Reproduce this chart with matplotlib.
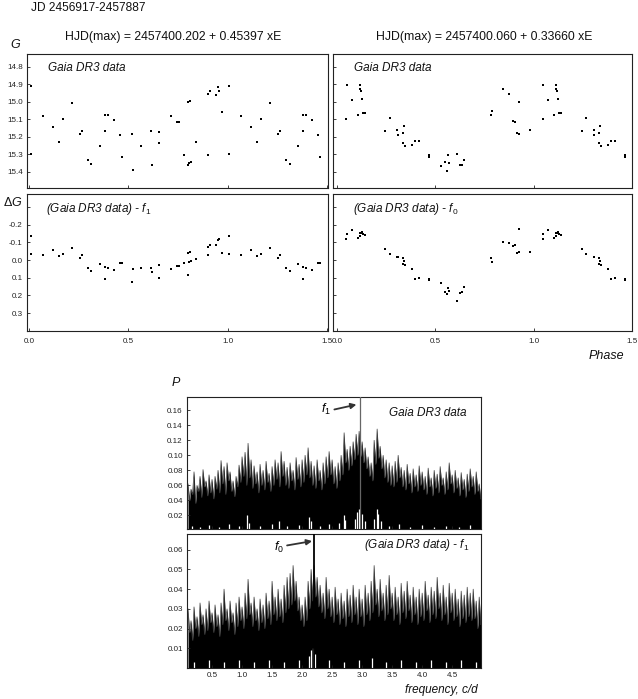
import numpy as np
import matplotlib
matplotlib.use("Agg")
import matplotlib.pyplot as plt
from matplotlib.ticker import FormatStrFormatter

plt.rcParams['font.family'] = ['Liberation Sans', 'DejaVu Sans']
plt.rcParams['mathtext.fontset'] = 'custom'
plt.rcParams['mathtext.rm'] = 'Liberation Sans'
plt.rcParams['mathtext.it'] = 'Liberation Sans:italic'
plt.rcParams['mathtext.bf'] = 'Liberation Sans:bold'
plt.rcParams['axes.unicode_minus'] = False

# ---------------- data: light curves ----------------
# left column (P = 0.45397 d)
phase_left = [0.008, 0.008, 0.070, 0.119, 0.151, 0.171, 0.214, 0.254, 0.264, 0.294,
              0.313, 0.355, 0.380, 0.381, 0.398, 0.425, 0.455, 0.468, 0.518, 0.523,
              0.562, 0.615, 0.620, 0.652, 0.654, 0.716, 0.744, 0.753, 0.778, 0.798,
              0.801, 0.811, 0.808, 0.814, 0.841, 0.900, 0.901, 0.910, 0.941, 0.951,
              0.955, 0.970]
g_left = [14.910, 15.297, 15.082, 15.147, 15.229, 15.097, 15.010, 15.185, 15.168, 15.333,
          15.358, 15.251, 15.168, 15.074, 15.074, 15.105, 15.192, 15.316, 15.187, 15.392,
          15.253, 15.170, 15.362, 15.175, 15.238, 15.082, 15.118, 15.116, 15.305, 15.360,
          15.004, 14.996, 15.349, 15.343, 15.229, 15.305, 14.954, 14.939, 14.964, 14.918,
          14.941, 15.061]
dg_left = [-0.136, -0.034, -0.030, -0.058, -0.025, -0.034, -0.068, -0.011, -0.028, 0.047,
           0.060, 0.023, 0.108, 0.040, 0.047, 0.055, 0.019, 0.019, 0.126, 0.051,
           0.043, 0.043, 0.068, 0.030, 0.102, 0.051, 0.036, 0.036, 0.019, 0.083,
           -0.042, -0.043, 0.009, 0.008, -0.008, -0.026, -0.075, -0.087, -0.087, -0.113,
           -0.117, -0.042]

# right column (P = 0.33660 d)
phase_right = [0.046, 0.049, 0.076, 0.105, 0.115, 0.115, 0.120, 0.125, 0.130, 0.140,
               0.245, 0.269, 0.306, 0.308, 0.335, 0.338, 0.333, 0.345,
               0.381, 0.394, 0.415, 0.465, 0.465,
               0.528, 0.548, 0.562, 0.560, 0.570,
               0.611, 0.626, 0.635, 0.646,
               0.783, 0.790,
               0.846, 0.876, 0.895, 0.904, 0.914, 0.924, 0.926, 0.981]
g_right = [15.098, 14.902, 14.992, 15.075, 14.906, 14.927, 14.941, 14.984, 15.067, 15.067,
           15.165, 15.092, 15.163, 15.188, 15.180, 15.141, 15.235, 15.253,
           15.249, 15.227, 15.227, 15.306, 15.318,
           15.365, 15.347, 15.302, 15.394, 15.349,
           15.296, 15.361, 15.359, 15.331,
           15.075, 15.051,
           14.927, 14.955, 15.110, 15.114, 15.176, 15.184, 15.000, 15.161]
dg_right = [-0.118, -0.146, -0.171, -0.125, -0.135, -0.152, -0.154, -0.160, -0.146, -0.139,
            -0.061, -0.034, -0.019, -0.015, -0.011, 0.004, 0.023, 0.029,
            0.051, 0.105, 0.103, 0.108, 0.114,
            0.129, 0.181, 0.158, 0.194, 0.175,
            0.230, 0.184, 0.181, 0.152,
            -0.010, 0.013,
            -0.103, -0.095, -0.082, -0.084, -0.038, -0.044, -0.177, -0.048]

# ---------------- data: periodograms ----------------
freq_start, freq_end, n_freq = 0.10, 4.95, 98
# spike tops, one per 0.05 c/d
p1_peak = [0.062, 0.055, 0.078, 0.060, 0.072, 0.081, 0.066, 0.074, 0.068, 0.072,
           0.080, 0.093, 0.085, 0.090, 0.078, 0.066, 0.072, 0.087, 0.098, 0.104,
           0.116, 0.094, 0.086, 0.078, 0.088, 0.080, 0.092, 0.076, 0.085, 0.094,
           0.090, 0.105, 0.092, 0.084, 0.090, 0.080, 0.097, 0.088, 0.094, 0.100,
           0.110, 0.092, 0.086, 0.094, 0.080, 0.090, 0.098, 0.105, 0.094, 0.085,
           0.090, 0.100, 0.130, 0.108, 0.112, 0.118, 0.128, 0.132, 0.118, 0.110,
           0.098, 0.090, 0.120, 0.135, 0.112, 0.100, 0.094, 0.090, 0.086, 0.092,
           0.100, 0.084, 0.080, 0.088, 0.076, 0.082, 0.074, 0.086, 0.078, 0.072,
           0.083, 0.070, 0.080, 0.075, 0.085, 0.070, 0.078, 0.090, 0.074, 0.080,
           0.070, 0.077, 0.068, 0.075, 0.082, 0.072, 0.078, 0.062]
# valleys between spikes, one per 0.05 c/d
p1_valley = [0.040, 0.048, 0.036, 0.052, 0.044, 0.058, 0.046, 0.050, 0.042, 0.055,
             0.050, 0.062, 0.048, 0.066, 0.052, 0.045, 0.058, 0.064, 0.072, 0.060,
             0.070, 0.056, 0.062, 0.050, 0.060, 0.054, 0.064, 0.052, 0.060, 0.068,
             0.058, 0.072, 0.060, 0.056, 0.066, 0.054, 0.068, 0.058, 0.064, 0.074,
             0.070, 0.060, 0.056, 0.066, 0.054, 0.062, 0.070, 0.074, 0.062, 0.056,
             0.066, 0.074, 0.090, 0.080, 0.086, 0.094, 0.100, 0.098, 0.090, 0.082,
             0.072, 0.066, 0.088, 0.096, 0.082, 0.070, 0.064, 0.060, 0.058, 0.064,
             0.070, 0.058, 0.054, 0.062, 0.050, 0.058, 0.052, 0.060, 0.054, 0.048,
             0.058, 0.046, 0.056, 0.050, 0.060, 0.048, 0.054, 0.062, 0.050, 0.056,
             0.046, 0.054, 0.044, 0.052, 0.058, 0.048, 0.052, 0.042]
p1_gap_freq = [0.16, 0.30, 0.45, 0.62, 0.78, 0.95, 1.09, 1.12, 1.30, 1.50, 1.62, 1.75,
               1.95, 2.12, 2.15, 2.30, 2.45, 2.62, 2.69, 2.72, 2.88, 2.92, 2.95, 3.00,
               3.04, 3.20, 3.24, 3.27, 3.31, 3.45, 3.62, 3.80, 4.00, 4.20, 4.40, 4.62, 4.80]
p1_gap_height = [0.006, 0.005, 0.007, 0.005, 0.008, 0.006, 0.020, 0.010, 0.006, 0.008,
                 0.012, 0.006, 0.007, 0.018, 0.012, 0.006, 0.008, 0.010, 0.020, 0.014,
                 0.015, 0.025, 0.028, 0.022, 0.012, 0.015, 0.028, 0.022, 0.012, 0.006,
                 0.008, 0.005, 0.007, 0.005, 0.006, 0.005, 0.007]

p2_peak = [0.030, 0.024, 0.031, 0.026, 0.033, 0.027, 0.030, 0.034, 0.028, 0.032,
           0.027, 0.033, 0.040, 0.030, 0.034, 0.028, 0.033, 0.036, 0.031, 0.038,
           0.045, 0.033, 0.036, 0.030, 0.035, 0.032, 0.038, 0.034, 0.044, 0.036,
           0.040, 0.035, 0.042, 0.046, 0.048, 0.052, 0.044, 0.036, 0.032, 0.036,
           0.044, 0.050, 0.052, 0.046, 0.042, 0.038, 0.046, 0.040, 0.036, 0.041,
           0.035, 0.038, 0.034, 0.040, 0.037, 0.042, 0.036, 0.040, 0.035, 0.042,
           0.038, 0.044, 0.052, 0.040, 0.045, 0.038, 0.042, 0.047, 0.038, 0.041,
           0.036, 0.043, 0.039, 0.044, 0.037, 0.041, 0.036, 0.040, 0.038, 0.044,
           0.037, 0.041, 0.039, 0.046, 0.038, 0.042, 0.036, 0.043, 0.038, 0.040,
           0.035, 0.039, 0.037, 0.041, 0.038, 0.040, 0.034, 0.036]
p2_valley = [0.018, 0.014, 0.020, 0.016, 0.022, 0.017, 0.019, 0.023, 0.018, 0.021,
             0.016, 0.022, 0.024, 0.019, 0.023, 0.017, 0.021, 0.024, 0.020, 0.025,
             0.027, 0.021, 0.024, 0.019, 0.023, 0.020, 0.025, 0.022, 0.027, 0.024,
             0.026, 0.023, 0.028, 0.030, 0.032, 0.034, 0.029, 0.024, 0.021, 0.024,
             0.030, 0.034, 0.036, 0.031, 0.028, 0.025, 0.030, 0.026, 0.023, 0.027,
             0.022, 0.025, 0.021, 0.026, 0.023, 0.027, 0.022, 0.026, 0.021, 0.027,
             0.024, 0.028, 0.032, 0.026, 0.029, 0.024, 0.027, 0.030, 0.024, 0.027,
             0.022, 0.028, 0.025, 0.029, 0.023, 0.027, 0.022, 0.026, 0.024, 0.029,
             0.023, 0.027, 0.025, 0.030, 0.024, 0.027, 0.022, 0.028, 0.024, 0.026,
             0.021, 0.025, 0.023, 0.026, 0.024, 0.025, 0.020, 0.022]
p2_gap_freq = [0.20, 0.45, 0.70, 0.95, 1.20, 1.45, 1.70, 1.95, 2.12, 2.15, 2.18, 2.21,
               2.45, 2.70, 2.95, 3.16, 3.40, 3.65, 3.90, 4.15, 4.40, 4.65, 4.90]
p2_gap_height = [0.003, 0.004, 0.003, 0.004, 0.003, 0.004, 0.003, 0.004, 0.006, 0.009,
                 0.010, 0.007, 0.004, 0.003, 0.004, 0.005, 0.003, 0.004, 0.003, 0.004,
                 0.003, 0.004, 0.003]

f1 = 1 / 0.33660
f0 = 1 / 0.45397

# ---------------- figure ----------------
W, H = 638, 699
fig = plt.figure(figsize=(W / 100, H / 100), dpi=100)


def rect(l, t, r, b):
    return [l / W, 1 - b / H, (r - l) / W, (b - t) / H]


def style(ax):
    for s in ax.spines.values():
        s.set_linewidth(0.8)
        s.set_color('#222222')
    ax.tick_params(direction='in', length=2.5, width=0.6, labelsize=5.8,
                   colors='#222222', pad=3, top=False, right=False)


def fold(ph, val):
    ph = np.asarray(ph)
    val = np.asarray(val)
    m = ph + 1 <= 1.5
    return np.concatenate([ph, ph[m] + 1]), np.concatenate([val, val[m]])


ax_tl = fig.add_axes(rect(27, 54, 328, 188.3))
ax_bl = fig.add_axes(rect(27, 194.3, 328, 330.7))
ax_tr = fig.add_axes(rect(333, 54, 632, 188.3))
ax_br = fig.add_axes(rect(333, 194.3, 632, 330.7))

mk = dict(marker='s', ms=2.15, mew=0, color='black', ls='none')
g_ticks = [14.8, 14.9, 15.0, 15.1, 15.2, 15.3, 15.4]
dg_ticks = [-0.3, -0.2, -0.1, 0.0, 0.1, 0.2, 0.3]
dg_labels = ['', '-0.2', '-0.1', '0.0', '0.1', '0.2', '0.3']
ph_ticks = [0.0, 0.5, 1.0, 1.5]

for ax, ph, val, xl in [(ax_tl, phase_left, g_left, (-0.012, 1.507)),
                        (ax_tr, phase_right, g_right, (-0.022, 1.502))]:
    x, y = fold(ph, val)
    ax.plot(x, y, **mk)
    ax.set_xlim(*xl)
    ax.set_ylim(15.495, 14.727)
    ax.set_yticks(g_ticks)
    ax.set_xticks(ph_ticks)
    ax.set_xticklabels([])
    style(ax)
ax_tl.yaxis.set_major_formatter(FormatStrFormatter('%.1f'))
ax_tr.set_yticklabels([])

for ax, ph, val, xl in [(ax_bl, phase_left, dg_left, (-0.012, 1.507)),
                        (ax_br, phase_right, dg_right, (-0.022, 1.502))]:
    x, y = fold(ph, val)
    ax.plot(x, y, **mk)
    ax.set_xlim(*xl)
    ax.set_ylim(0.40, -0.372)
    ax.set_yticks(dg_ticks)
    ax.set_xticks(ph_ticks)
    ax.set_xticklabels(['0.0', '0.5', '1.0', '1.5'])
    style(ax)
    ax.tick_params(axis='x', pad=5)
ax_bl.set_yticklabels(dg_labels)
ax_br.set_yticklabels([])

lab = dict(fontsize=8.5, style='italic', va='center', ha='left', color='#111111')
ax_tl.text(0.07, 0.896, 'Gaia DR3 data', transform=ax_tl.transAxes, **lab)
ax_tr.text(0.071, 0.896, 'Gaia DR3 data', transform=ax_tr.transAxes, **lab)
ax_bl.text(0.062, 0.892, r'(Gaia DR3 data) - $f_1$', transform=ax_bl.transAxes, **lab)
ax_br.text(0.068, 0.892, r'(Gaia DR3 data) - $f_0$', transform=ax_br.transAxes, **lab)

# periodograms
ax_p1 = fig.add_axes(rect(187, 397, 481, 529))
ax_p2 = fig.add_axes(rect(187, 534, 481, 668))
freq = np.linspace(freq_start, freq_end, n_freq)
half = (freq[1] - freq[0]) / 2

for ax, peak, valley, gf, gh, yl in [(ax_p1, p1_peak, p1_valley, p1_gap_freq, p1_gap_height, (0.002, 0.1776)),
                                     (ax_p2, p2_peak, p2_valley, p2_gap_freq, p2_gap_height, (0.0, 0.068))]:
    xs = np.column_stack([freq, freq + half]).ravel()
    ys = np.column_stack([peak, valley]).ravel()
    ax.fill_between(xs, 0, ys, color='black', lw=0)
    ax.plot(xs, ys, color='#3a3a3a', lw=0.5)
    ax.vlines(gf, 0, gh, color='white', lw=0.9)
    ax.set_xlim(0.083, 4.98)
    ax.set_ylim(*yl)
    ax.set_xticks([0.5, 1.0, 1.5, 2.0, 2.5, 3.0, 3.5, 4.0, 4.5])
    style(ax)

ax_p1.set_yticks([0.02, 0.04, 0.06, 0.08, 0.10, 0.12, 0.14, 0.16])
ax_p1.yaxis.set_major_formatter(FormatStrFormatter('%.2f'))
ax_p1.set_xticklabels([])
ax_p2.set_yticks([0.01, 0.02, 0.03, 0.04, 0.05, 0.06])
ax_p2.yaxis.set_major_formatter(FormatStrFormatter('%.2f'))
ax_p2.xaxis.set_major_formatter(FormatStrFormatter('%.1f'))

ax_p1.axvline(f1, color='#666666', lw=0.9, zorder=5)
ax_p2.axvline(f0, color='black', lw=1.3, zorder=5)

arr = dict(arrowstyle='-|>', color='#333333', lw=1.3, mutation_scale=8, shrinkA=0, shrinkB=0)
ax_p1.annotate('', xy=(2.905, 0.1675), xytext=(2.538, 0.161), arrowprops=arr)
ax_p1.text(2.40, 0.1615, r'$f_1$', fontsize=9, ha='center', va='center')
ax_p2.annotate('', xy=(2.167, 0.0644), xytext=(1.75, 0.0622), arrowprops=arr)
ax_p2.text(1.61, 0.0612, r'$f_0$', fontsize=9, ha='center', va='center')

ax_p1.text(0.95, 0.88, 'Gaia DR3 data', transform=ax_p1.transAxes, fontsize=8.5,
           style='italic', ha='right', va='center', color='#111111')
ax_p2.text(0.96, 0.92, r'(Gaia DR3 data) - $f_1$', transform=ax_p2.transAxes, fontsize=8.5,
           style='italic', ha='right', va='center', color='#111111')

# figure texts


def ftext(x, y, s, **kw):
    fig.text(x / W, 1 - y / H, s, va='center', color='#111111', **kw)


ftext(31, 8, 'JD 2456917-2457887', fontsize=8.6, ha='left')
ftext(173, 37, 'HJD(max) = 2457400.202 + 0.45397 xE', fontsize=8.8, ha='center')
ftext(484, 37, 'HJD(max) = 2457400.060 + 0.33660 xE', fontsize=8.8, ha='center')
ftext(10, 45, 'G', fontsize=9, ha='left', style='italic')
ftext(3, 202, r'$\Delta G$', fontsize=9, ha='left')
ftext(624, 356, 'Phase', fontsize=9, ha='right', style='italic')
ftext(172, 383, 'P', fontsize=9, ha='left', style='italic')
ftext(478, 690, 'frequency, c/d', fontsize=8.5, ha='right', style='italic')

fig.savefig('out.png', dpi=100, facecolor='white')
